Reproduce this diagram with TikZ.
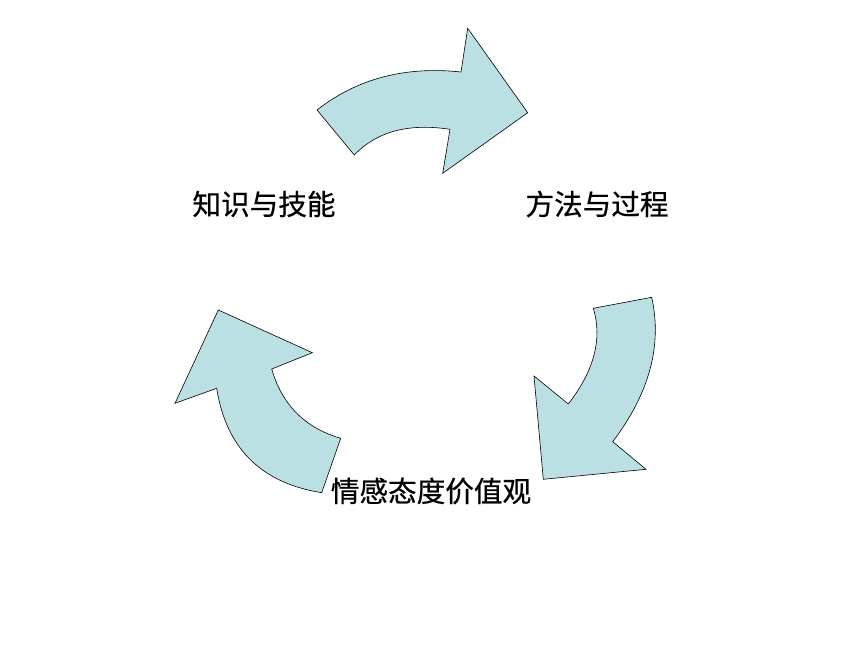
\documentclass[tikz,border=0pt]{standalone}
\usepackage{fontspec}
\newfontfamily\cjk[FakeBold=0.6]{Noto Sans CJK SC}
\definecolor{arrowfill}{RGB}{187,224,227}
\begin{document}
\begin{tikzpicture}[x=1pt,y=-1pt,
  cyclearrow/.style={draw=black,line width=0.6pt,fill=arrowfill,line join=miter},
  lbl/.style={font=\cjk\fontsize{28.6}{32}\selectfont,inner sep=0pt,anchor=center}]
\useasboundingbox (0,0) rectangle (860,645);
\fill[white] (0,0) rectangle (860,645);
% top arrow
\draw[cyclearrow] (317,110) .. controls (357,78.7) and (405,66) .. (461,72)
  -- (467.7,28.3) -- (527.7,112.7) -- (442.7,173.3) -- (450,129.3)
  .. controls (408.5,123) and (376.6,131.5) .. (354.3,155) -- cycle;
% right arrow
\draw[cyclearrow] (593.3,308.3) -- (651.7,297.3)
  .. controls (662.4,345.2) and (649.4,393.3) .. (612.7,441.7)
  -- (646,469.3) -- (543.3,479.3) -- (534,376) -- (568.3,404)
  .. controls (594.2,370.6) and (602.6,338.7) .. (593.3,308.3) -- cycle;
% left arrow
\draw[cyclearrow] (321.7,492.7) -- (340.7,438.3)
  .. controls (305,427.9) and (282,404.8) .. (271.7,369)
  -- (312.3,352.7) -- (218.3,310) -- (175,403.3) -- (216.7,388.3)
  .. controls (226.1,448.2) and (261.1,483) .. (321.7,492.7) -- cycle;
\node[lbl] (a) at (264,204) {知识与技能};
\node[lbl] (b) at (597,204) {方法与过程};
\node[lbl] (c) at (431,491) {情感态度价值观};
\end{tikzpicture}
\end{document}
